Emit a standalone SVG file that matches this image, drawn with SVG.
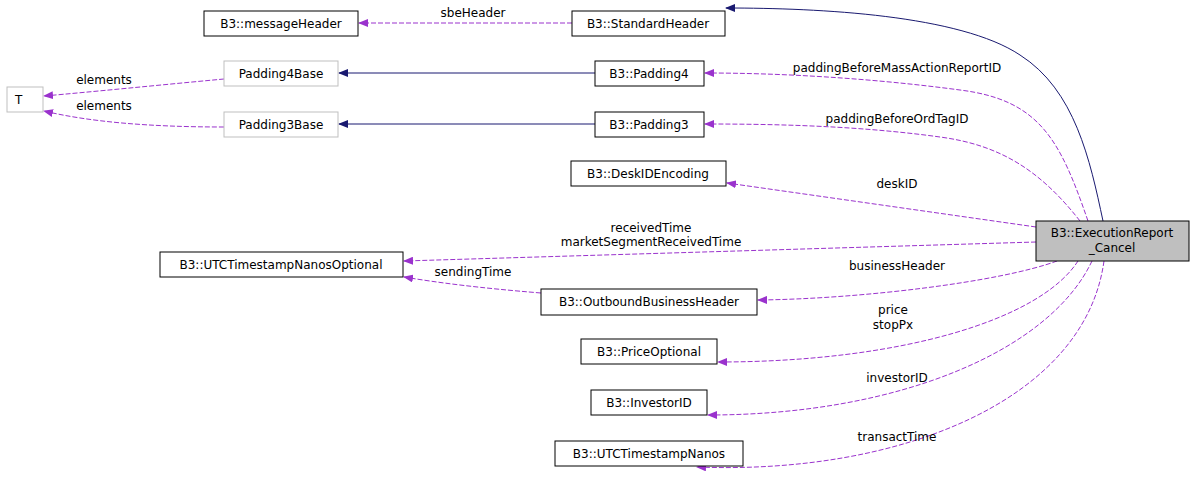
<svg xmlns="http://www.w3.org/2000/svg" width="1195" height="492" viewBox="0 0 1195 492">
<style>
text{font-family:"DejaVu Sans",sans-serif;font-size:12px;fill:#000}
.n rect{fill:#fff;stroke:#000;stroke-width:1}
.g rect{fill:#fff;stroke:#bfbfbf;stroke-width:1}
.c{fill:none;stroke:#9a32cd;stroke-dasharray:5,2}
.i{fill:none;stroke:#191970}
</style>
<defs>
<marker id="mp" markerWidth="10" markerHeight="8" refX="9" refY="4" orient="auto" markerUnits="userSpaceOnUse"><path d="M0,0 L10,4 L0,8 z" fill="#9a32cd"/></marker>
<marker id="mb" markerWidth="10" markerHeight="8" refX="9" refY="4" orient="auto" markerUnits="userSpaceOnUse"><path d="M0,0 L10,4 L0,8 z" fill="#191970"/></marker>
</defs>
<rect width="1195" height="492" fill="#fff"/>
<g id="edges">
<path class="i" marker-end="url(#mb)" d="M1103,221 C1090,160 1075,90 1020,55 C960,15 820,8 726,8"/>
<path class="c" marker-end="url(#mp)" d="M572,23 L359,23"/>
<text x="473" y="17" text-anchor="middle">sbeHeader</text>
<path class="i" marker-end="url(#mb)" d="M595,73 L339,73"/>
<path class="i" marker-end="url(#mb)" d="M595,124 L339,124"/>
<path class="c" marker-end="url(#mp)" d="M224,79 C160,85 90,92 44,96"/>
<text x="104" y="84" text-anchor="middle">elements</text>
<path class="c" marker-end="url(#mp)" d="M224,127 C150,127 90,122 44,111"/>
<text x="104" y="110" text-anchor="middle">elements</text>
<path class="c" marker-end="url(#mp)" d="M1088,221 C1060,140 1040,100 960,90 C870,78 780,73 705,73"/>
<text x="897" y="72" text-anchor="middle">paddingBeforeMassActionReportID</text>
<path class="c" marker-end="url(#mp)" d="M1080,221 C1040,170 1000,145 940,137 C860,126 780,124 705,124"/>
<text x="897" y="123" text-anchor="middle">paddingBeforeOrdTagID</text>
<path class="c" marker-end="url(#mp)" d="M1036,227 L727,183"/>
<text x="897" y="188" text-anchor="middle">deskID</text>
<path class="c" marker-end="url(#mp)" d="M1036,242 L404,261"/>
<text x="651" y="232" text-anchor="middle">receivedTime</text>
<text x="651" y="246" text-anchor="middle">marketSegmentReceivedTime</text>
<path class="c" marker-end="url(#mp)" d="M541,293 C480,288 440,283 404,277"/>
<text x="473" y="276" text-anchor="middle">sendingTime</text>
<path class="c" marker-end="url(#mp)" d="M1057,261 C1000,282 860,299 758,300"/>
<text x="897" y="270" text-anchor="middle">businessHeader</text>
<path class="c" marker-end="url(#mp)" d="M1078,261 C1040,320 900,362 718,362"/>
<text x="893" y="314" text-anchor="middle">price</text>
<text x="893" y="329" text-anchor="middle">stopPx</text>
<path class="c" marker-end="url(#mp)" d="M1092,261 C1050,350 900,415 708,415"/>
<text x="897" y="382" text-anchor="middle">investorID</text>
<path class="c" marker-end="url(#mp)" d="M1104,261 C1085,400 900,475 697,467"/>
<text x="897" y="441" text-anchor="middle">transactTime</text>
</g>
<g id="T" class="g"><rect x="7" y="87" width="36" height="25"/><text x="15" y="104">T</text></g>
<g id="messageHeader" class="n"><rect x="204" y="11" width="154" height="25"/><text x="281" y="28" text-anchor="middle">B3::messageHeader</text></g>
<g id="StandardHeader" class="n"><rect x="572" y="11" width="153" height="25"/><text x="648" y="28" text-anchor="middle">B3::StandardHeader</text></g>
<g id="Padding4Base" class="g"><rect x="224" y="61" width="114" height="25"/><text x="281" y="78" text-anchor="middle">Padding4Base</text></g>
<g id="Padding4" class="n"><rect x="595" y="61" width="109" height="25"/><text x="649" y="78" text-anchor="middle">B3::Padding4</text></g>
<g id="Padding3Base" class="g"><rect x="224" y="112" width="114" height="25"/><text x="281" y="129" text-anchor="middle">Padding3Base</text></g>
<g id="Padding3" class="n"><rect x="595" y="112" width="109" height="25"/><text x="649" y="129" text-anchor="middle">B3::Padding3</text></g>
<g id="DeskIDEncoding" class="n"><rect x="571" y="161" width="155" height="25"/><text x="648" y="178" text-anchor="middle">B3::DeskIDEncoding</text></g>
<g id="ExecutionReport_Cancel"><rect x="1036" y="221" width="153" height="40" fill="#bfbfbf" stroke="#000"/><text x="1112" y="237" text-anchor="middle">B3::ExecutionReport</text><text x="1112" y="252" text-anchor="middle">_Cancel</text></g>
<g id="UTCTimestampNanosOptional" class="n"><rect x="160" y="252" width="243" height="25"/><text x="281" y="269" text-anchor="middle">B3::UTCTimestampNanosOptional</text></g>
<g id="OutboundBusinessHeader" class="n"><rect x="541" y="289" width="216" height="26"/><text x="649" y="306" text-anchor="middle">B3::OutboundBusinessHeader</text></g>
<g id="PriceOptional" class="n"><rect x="581" y="339" width="136" height="25"/><text x="649" y="356" text-anchor="middle">B3::PriceOptional</text></g>
<g id="InvestorID" class="n"><rect x="591" y="390" width="116" height="25"/><text x="649" y="407" text-anchor="middle">B3::InvestorID</text></g>
<g id="UTCTimestampNanos" class="n"><rect x="555" y="441" width="188" height="25"/><text x="649" y="458" text-anchor="middle">B3::UTCTimestampNanos</text></g>
</svg>
